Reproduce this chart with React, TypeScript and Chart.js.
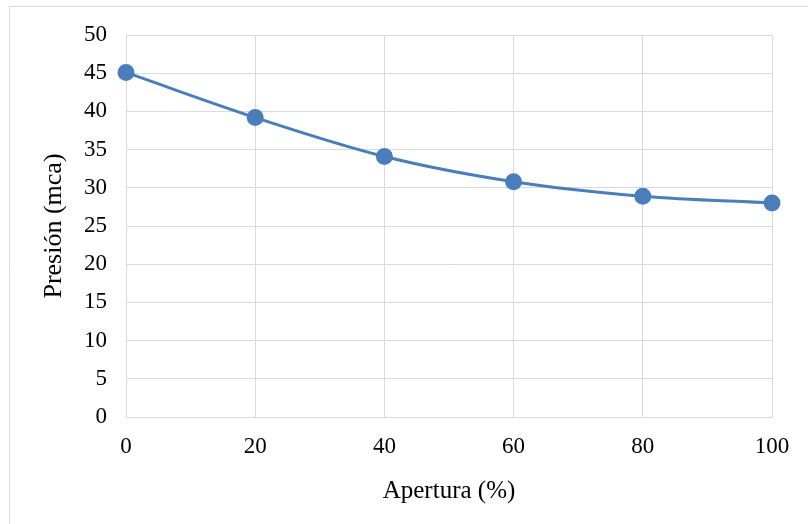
import React, { useEffect, useRef } from "react";
import { Chart, registerables } from "chart.js";

Chart.register(...registerables);

const apertura = [0, 20, 40, 60, 80, 100];
const presion = [45.1, 39.2, 34.1, 30.8, 28.9, 28.0];
const xTitle = "Apertura (%)";
const yTitle = "Presión (mca)";

const GRID = "#d9d9d9";
const LINE = "#4A7EBB";
const FONT = "'Liberation Serif', 'Times New Roman', serif";

const borderPlugin = {
  id: "outerBorder",
  beforeDraw(chart: any) {
    const ctx = chart.ctx;
    ctx.save();
    ctx.strokeStyle = GRID;
    ctx.lineWidth = 1;
    ctx.beginPath();
    ctx.moveTo(9.5, chart.height);
    ctx.lineTo(9.5, 6.5);
    ctx.lineTo(chart.width, 6.5);
    ctx.stroke();
    ctx.restore();
  },
};

export default function App() {
  const ref = useRef<HTMLCanvasElement | null>(null);
  useEffect(() => {
    if (!ref.current) return;
    const chart = new Chart(ref.current, {
      type: "line",
      data: {
        datasets: [
          {
            data: apertura.map((x, i) => ({ x, y: presion[i] })),
            borderColor: LINE,
            backgroundColor: LINE,
            borderWidth: 3,
            pointRadius: 7,
            pointHoverRadius: 7,
            pointBackgroundColor: LINE,
            pointBorderColor: LINE,
            tension: 0.33,
            clip: false as any,
          },
        ],
      },
      options: {
        animation: false,
        responsive: false,
        maintainAspectRatio: false,
        layout: { padding: { left: 0, top: 35, right: 36, bottom: 0 } },
        plugins: { legend: { display: false }, tooltip: { enabled: false } },
        scales: {
          x: {
            type: "linear",
            min: 0,
            max: 100,
            ticks: { stepSize: 20, color: "#000", font: { family: FONT, size: 23 }, padding: 16 },
            grid: { color: GRID, drawTicks: false, lineWidth: 1 },
            border: { color: GRID },
            title: {
              display: true,
              text: xTitle,
              color: "#000",
              font: { family: FONT, size: 25 },
              padding: { top: 0, bottom: 18 },
            },
            afterFit: (s: any) => {
              s.height = 107;
            },
          },
          y: {
            min: 0,
            max: 50,
            ticks: { stepSize: 5, color: "#000", font: { family: FONT, size: 23 }, padding: 19 },
            grid: { color: GRID, drawTicks: false, lineWidth: 1 },
            border: { color: GRID },
            title: {
              display: true,
              text: yTitle,
              color: "#000",
              font: { family: FONT, size: 26 },
              padding: { top: 39, bottom: 0 },
            },
            afterFit: (s: any) => {
              s.width = 126;
            },
          },
        },
      },
      plugins: [borderPlugin],
    });
    return () => chart.destroy();
  }, []);
  return (
    <div style={{ position: "fixed", left: 0, top: 0, width: 808, height: 524, background: "#fff" }}>
      <canvas ref={ref} width={808} height={524} style={{ width: 808, height: 524, display: "block" }} />
    </div>
  );
}
